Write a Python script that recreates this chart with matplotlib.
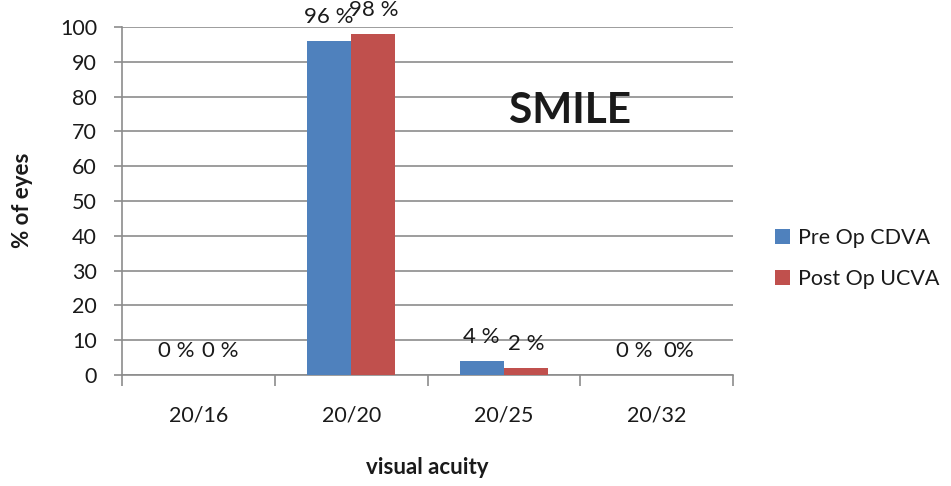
import matplotlib
matplotlib.use("Agg")
import matplotlib.pyplot as plt
import numpy as np
from matplotlib.ticker import FixedLocator

plt.rcParams['font.family'] = ['Lato', 'DejaVu Sans']

categories = ["20/16", "20/20", "20/25", "20/32"]
pre_op_cdva = [0, 96, 4, 0]
post_op_ucva = [0, 98, 2, 0]
pre_labels = ["0 %", "96 %", "4 %", "0 %"]
post_labels = ["0 %", "98 %", "2 %", "0%"]

blue = "#4F81BD"
red = "#C0504D"
grid_color = "#8C8C8C"
text_color = "#1a1a1a"

fig = plt.figure(figsize=(9.51, 4.86), dpi=100)
ax = fig.add_axes([0.1283, 0.2284, 0.6425, 0.7160])

x = np.arange(len(categories))
w = 0.29
b1 = ax.bar(x - w / 2, pre_op_cdva, w, color=blue, label="Pre Op CDVA", zorder=3)
b2 = ax.bar(x + w / 2, post_op_ucva, w, color=red, label="Post Op UCVA", zorder=3)

# value labels sit a fixed distance above each bar
for xs, vals, labs in ((x - w / 2, pre_op_cdva, pre_labels),
                       (x + w / 2, post_op_ucva, post_labels)):
    for xi, v, lab in zip(xs, vals, labs):
        ax.annotate(lab, (xi, v), xytext=(0, 24), textcoords="offset pixels",
                    ha="center", va="center", fontsize=16, color=text_color,
                    zorder=4)

ax.set_xlim(-0.5, 3.5)
ax.set_ylim(0, 100)
ax.set_yticks(np.arange(0, 101, 10))
ax.yaxis.grid(True, color=grid_color, linewidth=1.2, zorder=0)
ax.set_axisbelow(True)

ax.set_xticks(x)
ax.set_xticklabels(categories, fontsize=15.5, color=text_color)
ax.xaxis.set_minor_locator(FixedLocator(np.arange(-0.5, 3.6, 1.0)))
ax.tick_params(axis="x", which="major", length=0, pad=22)
ax.tick_params(axis="x", which="minor", length=8, width=1.2, color=grid_color, direction="out")
ax.tick_params(axis="y", length=6, width=1.2, color=grid_color, pad=12,
               labelsize=15.5, labelcolor=text_color)

for side in ["top", "right"]:
    ax.spines[side].set_visible(False)
for side in ["left", "bottom"]:
    ax.spines[side].set_color(grid_color)
    ax.spines[side].set_linewidth(1.2)

ax.set_xlabel("visual acuity", fontsize=16, fontweight="bold", color=text_color)
ax.xaxis.set_label_coords(0.5, -0.235)
ax.set_ylabel("% of eyes", fontsize=16, fontweight="bold", color=text_color)
ax.yaxis.set_label_coords(-0.146, 0.503)

ax.text(0.733, 0.76, "SMILE", transform=ax.transAxes, fontsize=30.5,
        fontweight="bold", ha="center", va="center", color=text_color)

fig.legend(handles=[b1, b2], loc="center left", bbox_to_anchor=(0.795, 0.468),
           frameon=False, fontsize=15.5, handlelength=0.7, handleheight=0.7,
           handletextpad=0.35, labelspacing=1.0, labelcolor=text_color)

fig.savefig("out.png", dpi=100)
